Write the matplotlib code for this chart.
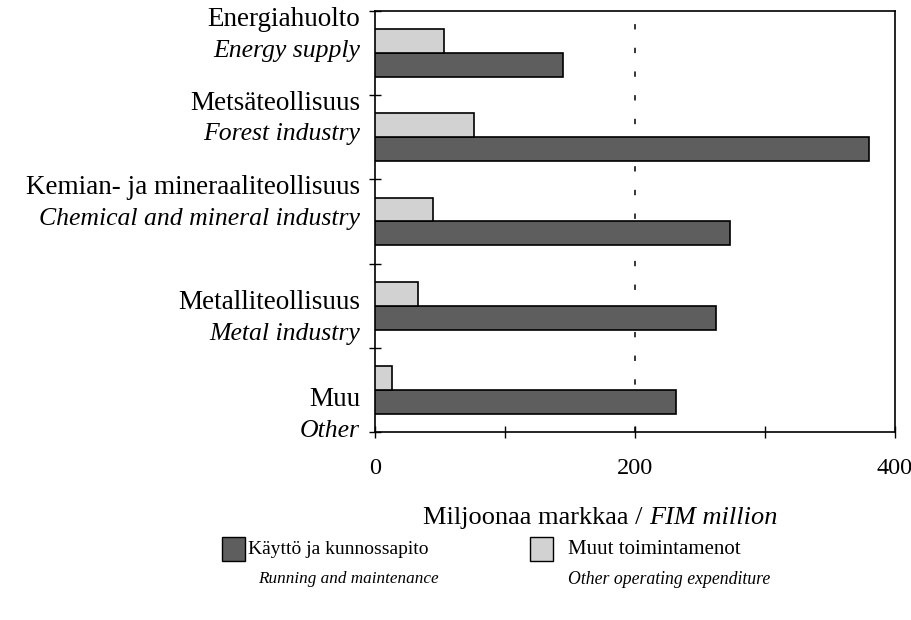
import matplotlib
matplotlib.use("Agg")
import matplotlib.pyplot as plt
from matplotlib.patches import Rectangle
from matplotlib.offsetbox import TextArea, HPacker, AnchoredOffsetbox

# ---- data ----
categories_fi = ["Energiahuolto", "Metsäteollisuus", "Kemian- ja mineraaliteollisuus",
                 "Metalliteollisuus", "Muu"]
categories_en = ["Energy supply", "Forest industry", "Chemical and mineral industry",
                 "Metal industry", "Other"]
running_maintenance = [144, 380, 273, 262, 231]
other_operating = [53, 76, 44, 33, 13]
series_fi = ["Käyttö ja kunnossapito", "Muut toimintamenot"]
series_en = ["Running and maintenance", "Other operating expenditure"]
xticks_major = [0, 200, 400]
xticks_minor = [100, 300]
xlabel_fi = "Miljoonaa markkaa / "
xlabel_en = "FIM million"

# ---- style ----
FONT = "Liberation Serif"
plt.rcParams["font.family"] = [FONT, "DejaVu Serif"]
DARK = "#5e5e5e"
LIGHT = "#d2d2d2"
FS_CAT = 19.5
FS_CAT_IT = 18.5
FS_TICK = 17.5
FS_XLAB = 19
FS_LEG = [14, 15]
FS_LEG_IT = [12.3, 12.8]

W, H = 912, 620
fig = plt.figure(figsize=(W / 100, H / 100), dpi=100)
ax = fig.add_axes([375.5 / W, 1 - 432 / H, (895 - 375.5) / W, (432 - 11) / H])

n = len(categories_fi)
ypos = list(range(n))
bh = 0.285
ax.barh([y + bh / 2 for y in ypos], running_maintenance, height=bh,
        color=DARK, edgecolor="black", linewidth=1.2, zorder=3)
ax.barh([y - bh / 2 for y in ypos], other_operating, height=bh,
        color=LIGHT, edgecolor="black", linewidth=1.2, zorder=3)

ax.set_xlim(0, 400)
ax.set_ylim(n - 0.5, -0.5)
ax.axvline(200, color="black", linewidth=1.1, linestyle=(0, (3.5, 12)), zorder=2)

ax.set_xticks(xticks_major)
ax.set_xticks(xticks_minor, minor=True)
ax.set_xticklabels([str(v) for v in xticks_major], fontsize=FS_TICK, family=FONT)
ax.tick_params(axis="x", which="both", direction="inout", length=9, width=1, pad=14)
ax.set_yticks([y - 0.5 for y in range(n + 1)])
ax.set_yticklabels([])
ax.tick_params(axis="y", direction="inout", length=9, width=1)
for s in ax.spines.values():
    s.set_linewidth(1.2)

# category labels (two lines, Finnish upright + English italic)
label_shift = [-0.21, -0.22, -0.22, 0.15, 0.3]
for i in range(n):
    c = i + label_shift[i]
    ax.text(-0.03, c - 0.185, categories_fi[i], transform=ax.get_yaxis_transform(),
            ha="right", va="center", fontsize=FS_CAT, family=FONT)
    ax.text(-0.03, c + 0.185, categories_en[i], transform=ax.get_yaxis_transform(),
            ha="right", va="center", fontsize=FS_CAT_IT, family=FONT, style="italic")

# x label with mixed style
ta1 = TextArea(xlabel_fi, textprops=dict(fontsize=FS_XLAB, family=FONT))
ta2 = TextArea(xlabel_en, textprops=dict(fontsize=FS_XLAB, family=FONT, style="italic"))
box = HPacker(children=[ta1, ta2], align="baseline", pad=0, sep=0)
anch = AnchoredOffsetbox(loc="center", child=box, frameon=False,
                         bbox_to_anchor=(600 / W, 1 - 518 / H),
                         bbox_transform=fig.transFigure, pad=0, borderpad=0)
fig.add_artist(anch)

# legend (manual)
def legend_entry(x_patch, x_text, color, fi, en, x_en, fs, fs_it):
    fig.add_artist(Rectangle((x_patch / W, 1 - 561 / H), 23 / W, 24 / H,
                             transform=fig.transFigure, facecolor=color,
                             edgecolor="black", linewidth=1.0))
    fig.text(x_text / W, 1 - 549 / H, fi, ha="left", va="center", fontsize=fs, family=FONT)
    fig.text(x_en / W, 1 - 579 / H, en, ha="left", va="center", fontsize=fs_it,
             family=FONT, style="italic")

legend_entry(222, 248, DARK, series_fi[0], series_en[0], 258, FS_LEG[0], FS_LEG_IT[0])
legend_entry(530, 568, LIGHT, series_fi[1], series_en[1], 568, FS_LEG[1], FS_LEG_IT[1])

fig.savefig("out.png", dpi=100)
